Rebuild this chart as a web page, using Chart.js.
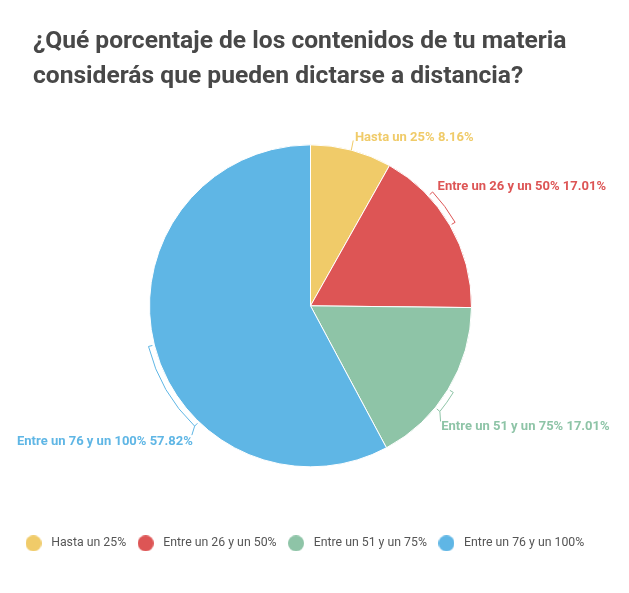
<!DOCTYPE html>
<html>
<head>
<meta charset="utf-8">
<script src="https://cdn.jsdelivr.net/npm/chart.js@4.4.0/dist/chart.umd.min.js"></script>
<style>
html, body { margin: 0; padding: 0; background: #fff; }
#wrap { position: relative; width: 629px; height: 593px; }
#myChart { position: absolute; left: 0; top: 0; }
#title {
    position: absolute; left: 33px; top: 22px; margin: 0;
    font-family: Roboto; font-weight: bold; font-size: 24.6px; line-height: 35px;
    color: #484848; white-space: nowrap;
}
</style>
</head>
<body>
<div id="wrap">
    <canvas id="myChart" width="629" height="593"></canvas>
    <h1 id="title">¿Qué porcentaje de los contenidos de tu materia<br>considerás que pueden dictarse a distancia?</h1>
</div>
<script>
var labels = ['Hasta un 25%', 'Entre un 26 y un 50%', 'Entre un 51 y un 75%', 'Entre un 76 y un 100%'];
var percents = [8.16, 17.01, 17.01, 57.82];
var colors = ['#f0cb69', '#dd5555', '#8ec4a7', '#5fb6e5'];

// how each outside label hangs off its slice: bracket sweep in degrees from the
// slice middle, then connector end and text anchor relative to the bracket end
var labelLayout = [
    {sweep: 0,   line: [1.9, -9.6], text: [3.6, -9.3], align: 'left'},
    {sweep: -13, line: [0, 0],      text: [5, -2],     align: 'left'},
    {sweep: 8,   line: [0.7, 10],   text: [1.4, 19],   align: 'left'},
    {sweep: -32, line: [-2.8, 9],   text: [-1.8, 19],  align: 'right'}
];

function dot(color) {
    var c = document.createElement('canvas');
    c.width = 16;
    c.height = 16;
    var g = c.getContext('2d');
    g.fillStyle = color;
    g.beginPath();
    g.arc(8, 8, 8, 0, Math.PI * 2);
    g.fill();
    return c;
}
var dots = colors.map(dot);

var outsideLabels = {
    id: 'outsideLabels',
    afterDatasetsDraw: function(chart) {
        var ctx = chart.ctx;
        var arcs = chart.getDatasetMeta(0).data;
        ctx.save();
        ctx.lineWidth = 1;
        ctx.font = 'bold 13px Roboto';
        ctx.textBaseline = 'alphabetic';
        arcs.forEach(function(arc, i) {
            var lay = labelLayout[i];
            var p = arc.getProps(['x', 'y', 'startAngle', 'endAngle', 'outerRadius'], true);
            var mid = (p.startAngle + p.endAngle) / 2;
            var r = p.outerRadius;
            var base;
            ctx.strokeStyle = colors[i];
            ctx.fillStyle = colors[i];
            ctx.beginPath();
            if (lay.sweep === 0) {
                base = [p.x + r * Math.cos(mid), p.y + r * Math.sin(mid)];
                ctx.moveTo(base[0], base[1]);
            } else {
                var R = r + 6, ri = r + 2;
                var end = mid + lay.sweep * Math.PI / 180;
                ctx.moveTo(p.x + ri * Math.cos(mid), p.y + ri * Math.sin(mid));
                ctx.arc(p.x, p.y, R, mid, end, lay.sweep < 0);
                ctx.lineTo(p.x + ri * Math.cos(end), p.y + ri * Math.sin(end));
                base = [p.x + R * Math.cos(end), p.y + R * Math.sin(end)];
                ctx.moveTo(base[0], base[1]);
            }
            if (lay.line[0] || lay.line[1]) {
                ctx.lineTo(base[0] + lay.line[0], base[1] + lay.line[1]);
            }
            ctx.stroke();
            ctx.textAlign = lay.align;
            ctx.fillText(labels[i] + ' ' + percents[i].toFixed(2) + '%', base[0] + lay.text[0], base[1] + lay.text[1]);
        });
        ctx.restore();
    }
};

var ctx = document.getElementById('myChart');
var myChart = new Chart(ctx, {
    type: 'pie',
    data: {
        labels: labels,
        datasets: [{
            data: percents,
            backgroundColor: colors,
            borderColor: '#ffffff',
            borderWidth: 1,
            radius: 161
        }]
    },
    options: {
        responsive: false,
        animation: false,
        layout: {
            padding: {left: 14, right: 22, top: 82.5, bottom: 33.5}
        },
        plugins: {
            tooltip: {enabled: false},
            legend: {
                position: 'bottom',
                align: 'start',
                labels: {
                    usePointStyle: true,
                    pointStyleWidth: 23,
                    padding: 8,
                    color: '#555555',
                    font: {family: 'Roboto', size: 12.3},
                    generateLabels: function(chart) {
                        var items = Chart.overrides.pie.plugins.legend.labels.generateLabels(chart);
                        items.forEach(function(item, i) {
                            item.pointStyle = dots[i];
                        });
                        return items;
                    }
                }
            }
        }
    },
    plugins: [outsideLabels]
});
</script>
</body>
</html>
